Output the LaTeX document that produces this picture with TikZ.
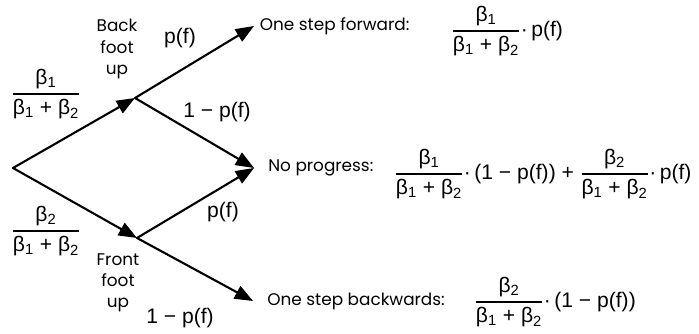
\documentclass[tikz,border=0pt]{standalone}
\usepackage{fontspec}
\usepackage{amsmath}
\setmainfont{Liberation Sans}
\newfontfamily\handfont{Poppins}
\usetikzlibrary{arrows.meta,positioning}

% share of a foot: beta_k / (beta_1 + beta_2)
\newcommand{\bshare}[1]{\ensuremath{\genfrac{}{}{1.1pt}{0}{\text{β\textsubscript{#1}}}{\text{β\textsubscript{1} + β\textsubscript{2}}}}}

\tikzset{
  branch/.style={line width=1.5pt,line cap=round,-{Triangle[length=13pt,width=10pt]}},
  hand/.style={font=\handfont\fontsize{12}{15}\selectfont,align=center,inner sep=1pt},
  formula/.style={font=\fontsize{15}{18}\selectfont,inner sep=0pt},
}

\begin{document}
\begin{tikzpicture}[x=0.025cm,y=-0.025cm]
  \useasboundingbox (0,0) rectangle (699,334);
  % junctions and tips
  \coordinate (root) at (13,168);
  \coordinate (bfoot) at (135,98);
  \coordinate (ffoot) at (137,238);
  \coordinate (fwdtip) at (254,26);
  \coordinate (noptip) at (254,168);
  \coordinate (bwdtip) at (253,301);
  % branches
  \draw[branch] (root) -- (bfoot);
  \draw[branch] (root) -- (ffoot);
  \draw[branch] (bfoot) -- (fwdtip);
  \draw[branch] (bfoot) -- (noptip);
  \draw[branch] (ffoot) -- (noptip);
  \draw[branch] (ffoot) -- (bwdtip);
  % probabilities on the branches
  \node[formula] (pback) at (46,94) {\bshare{1}};
  \node[formula] (pfront) at (46,231) {\bshare{2}};
  \node[formula] (pfup) at (180,38) {p(f)};
  \node[formula] (qfup) at (217,112) {1 − p(f)};
  \node[formula] (pflo) at (223,212) {p(f)};
  \node[formula] (qflo) at (180,318) {1 − p(f)};
  \node[hand] (back) at (117,49) {Back\\foot\\up};
  \node[hand] (front) at (118,283) {Front\\foot\\up};
  % outcomes
  \node[hand,right=3pt of fwdtip] (fwd) {One step forward:};
  \node[hand,right=9pt of noptip] (nop) {No progress:};
  \node[hand,right=9pt of bwdtip] (bwd) {One step backwards:};
  \node[formula,anchor=west] (fwdeq) at (451,31) {\bshare{1}·\,p(f)};
  \node[formula,anchor=west] (nopeq) at (394,174) {\bshare{1}·\,(1 − p(f)) + \bshare{2}·\,p(f)};
  \node[formula,anchor=west] (bwdeq) at (474,302) {\bshare{2}·\,(1 − p(f))};
\end{tikzpicture}
\end{document}
